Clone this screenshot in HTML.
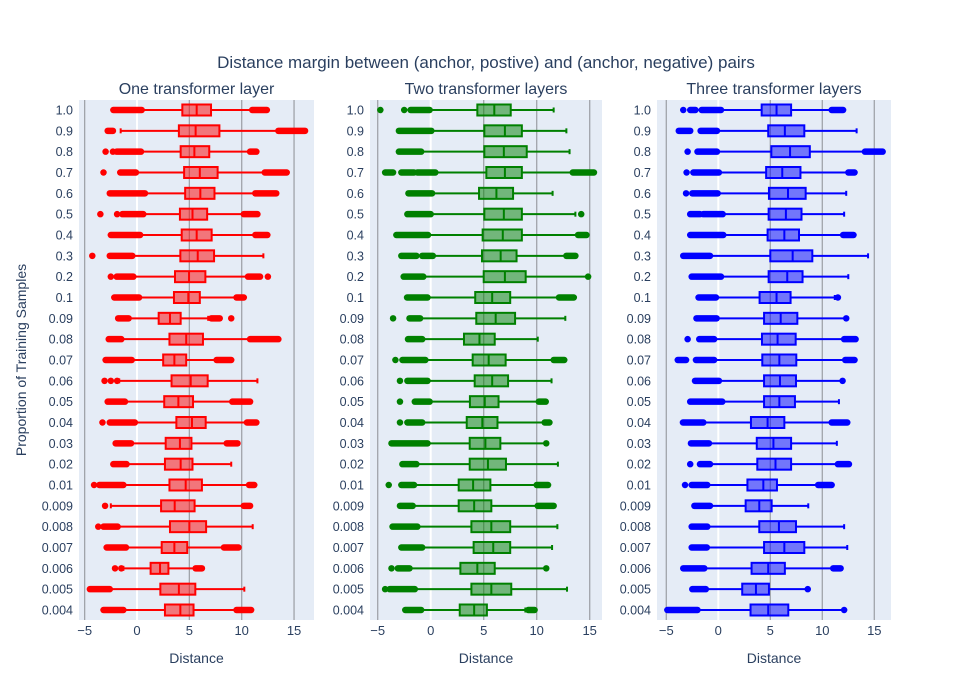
<!DOCTYPE html>
<html><head><meta charset="utf-8">
<style>
body{margin:0;background:#fff;}
svg{display:block;font-family:"Liberation Sans",Arial,sans-serif;}
</style></head>
<body>
<svg id="chart" width="971" height="700" viewBox="0 0 971 700">
<text x="486" y="68" text-anchor="middle" font-size="17" fill="#2a3f5f">Distance margin between (anchor, postive) and (anchor, negative) pairs</text>
<text x="26" y="360" text-anchor="middle" font-size="14" fill="#2a3f5f" transform="rotate(-90 26 360)">Proportion of Training Samples</text>
</svg>
<script>
const categories=["1.0","0.9","0.8","0.7","0.6","0.5","0.4","0.3","0.2","0.1","0.09","0.08","0.07","0.06","0.05","0.04","0.03","0.02","0.01","0.009","0.008","0.007","0.006","0.005","0.004"];
const panelTitles=["One transformer layer","Two transformer layers","Three transformer layers"];
const xTicks=[-5,0,5,10,15];
const xTickLabels=["−5","0","5","10","15"];

const p1Lo=[0.45,-1.56,0.38,-0.1,0.76,0.6,0.3,-0.45,-0.35,0.2,-0.8,-1.5,-0.5,-1.7,-1.15,-0.2,-0.57,-1.0,-1.3,-2.5,-1.85,-1.05,-1.3,-2.6,-1.3];
const p1Q1=[4.33,4.0,4.17,4.5,4.6,4.1,4.27,4.14,3.63,3.53,2.07,3.1,2.5,3.3,2.6,3.76,2.74,2.67,3.1,2.3,3.15,2.36,1.3,2.23,2.67];
const p1Med=[5.7,5.6,5.48,6.0,6.05,5.3,5.7,5.8,4.97,4.9,3.15,4.7,3.57,5.13,3.95,5.25,4.1,4.17,4.65,3.6,5.0,3.57,2.2,4.0,4.14];
const p1Q3=[7.07,7.87,6.9,7.7,7.4,6.7,7.13,7.36,6.53,6.0,4.17,6.3,4.7,6.75,5.35,6.56,5.2,5.3,6.2,5.5,6.6,4.8,3.0,5.57,5.4];
const p1Hi=[10.96,13.5,10.8,12.2,11.3,10.2,11.3,12.07,10.6,9.8,6.8,10.8,7.6,11.5,9.1,10.5,8.57,9.0,10.7,10.2,11.05,8.3,5.6,10.25,9.5];
const p1Out=[[[-2.26,0.45],[11,12.4]],[[-2.8,-2.3],[13.5,16.05]],[[-3,-3],[-2.3,-2.3],[-1.94,0.38],[10.8,11.4]],[[-3.2,-3.2],[-1.6,-0.1],[12.2,14.3]],[[-2.6,0.76],[11.3,13.3]],[[-3.5,-3.5],[-1.9,-1.9],[-1.4,0.6],[10.2,11.5]],[[-2.5,0.3],[11.3,12.45]],[[-4.27,-4.27],[-2.6,-0.45]],[[-2.5,-2.5],[-1.94,-0.35],[10.6,11.75],[12.5,12.5]],[[-2.17,0.2],[9.5,10.2]],[[-1.8,-0.8],[7.1,7.9],[9,9]],[[-2.7,-1.5],[10.8,13.5]],[[-3,-0.5],[7.6,9]],[[-3.1,-3.1],[-2.5,-2.5],[-1.9,-1.9]],[[-2.8,-1.15],[9.1,10.8]],[[-3.3,-3.3],[-2.6,-0.2],[10.5,11.4]],[[-2.04,-0.57],[8.57,9.6]],[[-2.26,-1.0]],[[-4.1,-4.1],[-3.6,-1.3],[10.7,11.2]],[[-3.05,-3.05],[10.2,10.8]],[[-3.7,-3.7],[-3.2,-1.85]],[[-2.9,-1.05],[8.3,9.7]],[[-2.1,-2.1],[-1.5,-1.5],[5.6,6.2]],[[-4.5,-2.6]],[[-3.2,-1.3],[9.5,10.9]]];

const p2Lo=[-0.1,0.06,-0.88,0.44,0.13,0,-0.25,0.2,-0.7,-0.3,-1.0,-0.8,-0.5,-0.3,-0.1,-0.8,-0.3,-1.35,-1.57,-1.7,-1.26,-0.8,-2.0,-1.5,-0.9];
const p2Q1=[4.4,5.06,5.06,5.25,4.56,5.06,4.9,4.84,5.0,4.2,4.3,3.14,3.96,4.15,3.7,3.4,3.68,3.68,2.64,2.64,3.84,4.05,2.8,3.84,2.74];
const p2Med=[6.0,7.0,6.9,7.0,6.2,6.9,6.8,6.6,7.0,5.8,6.13,4.6,5.47,5.8,5.1,4.87,5.16,5.4,4.0,4.1,5.72,5.9,4.4,5.72,4.1];
const p2Q3=[7.55,8.6,9.06,8.6,7.77,8.6,8.6,8.1,8.96,7.5,7.96,6.04,7.07,7.3,6.4,6.3,6.57,7.1,5.63,5.72,7.5,7.5,6.04,7.6,5.3];
const p2Hi=[11.6,12.8,13.1,13.4,11.5,13.65,13.9,12.8,14.8,12.1,12.7,10.1,11.6,11.4,10.2,10.75,10.8,12.0,10.0,10.1,11.95,11.45,10.9,12.86,8.93];
const p2Out=[[[-4.75,-4.75],[-2.5,-2.5],[-1.9,-0.1]],[[-3,0.06]],[[-3,-0.9]],[[-4.3,-3.55],[-2.77,-1.57],[-1.26,0.44],[13.4,15.4]],[[-2.1,0.13]],[[-2.2,0],[14.2,14.2]],[[-3.24,-0.25],[13.9,14.7]],[[-2.77,-1.35],[-0.8,0.2],[12.8,13.65]],[[-2.55,-0.7],[14.85,14.85]],[[-2.23,-0.3],[12.1,13.5]],[[-3.55,-3.55],[-2,-1]],[[-2.14,-0.8]],[[-3.33,-3.33],[-2.67,-0.5],[11.6,12.6]],[[-2.9,-2.9],[-2.2,-0.3]],[[-2.9,-2.9],[-1.5,-0.1],[10.2,10.85]],[[-2.9,-2.9],[-2.2,-0.8],[10.75,11.2]],[[-3.7,-0.3],[10.9,10.9]],[[-2.67,-1.35]],[[-3.96,-3.96],[-2.77,-1.57],[10,11.07]],[[-2.9,-1.7],[10.1,11.6]],[[-3.6,-1.26]],[[-2.77,-0.8]],[[-3.7,-3.7],[-3.1,-2.0],[10.9,10.9]],[[-4.3,-4.3],[-3.87,-1.5]],[[-2.4,-0.9],[9.2,9.8]]];

const p3Lo=[0.26,-0.13,-0.13,0.06,-0.06,0.42,0.48,-0.8,0.26,-0.22,-0.16,-0.4,-0.4,0.06,0.38,-1.44,-0.9,-0.8,-1.06,-0.8,-1.06,-1.1,-1.35,-1.2,-2.0];
const p3Q1=[4.17,4.8,5.1,4.6,4.87,4.84,4.74,5.0,4.84,3.97,4.4,4.2,4.23,4.4,4.4,3.14,3.7,3.75,2.8,2.63,3.94,4.4,3.2,2.3,3.1];
const p3Med=[5.6,6.4,6.9,6.15,6.7,6.5,6.35,7.15,6.63,5.6,6.0,5.7,5.87,5.93,5.87,4.74,5.3,5.5,4.33,3.94,5.83,6.35,4.8,3.62,4.8];
const p3Q3=[7.0,8.27,8.8,7.9,8.4,8.0,7.76,9.04,8.1,6.95,7.6,7.44,7.5,7.47,7.37,6.35,7.0,7.0,5.64,5.13,7.47,8.27,6.4,4.87,6.73];
const p3Hi=[10.9,13.3,14.1,12.5,12.3,12.1,12.0,14.4,12.5,11.2,12.3,12.1,12.2,11.95,11.6,10.9,11.4,11.5,9.6,8.65,12.1,12.4,11.05,8.6,12.1];
const p3Out=[[[-3.37,-3.37],[-2.7,-2.2],[-1.6,0.26],[10.9,12.0]],[[-3.8,-2.7],[-1.7,-0.13]],[[-2.95,-2.95],[-2,-0.13],[14.1,15.8]],[[-3.05,-3.05],[-2.4,0.06],[12.5,13.1]],[[-3.1,-3.1],[-2.5,-0.06]],[[-2.7,-1.76],[-1.44,0.42]],[[-2.7,0.48],[12,13]],[[-3.37,-0.8]],[[-2.56,0.26]],[[-1.9,-0.22],[11.5,11.5]],[[-2.1,-0.16],[12.3,12.3]],[[-2.95,-2.95],[-1.83,-0.4],[12.1,13.2]],[[-3.9,-3.1],[-2.15,-0.4],[12.2,13.1]],[[-2.24,0.06],[11.95,11.95]],[[-2.7,0.38]],[[-3.4,-1.44],[10.9,12.4]],[[-2.63,-0.9]],[[-2.7,-2.7],[-1.76,-0.8],[11.5,12.56]],[[-3.2,-3.2],[-2.56,-1.06],[9.6,10.9]],[[-2.3,-0.8]],[[-2.56,-1.06]],[[-2.56,-1.1]],[[-3.37,-1.35],[11.05,11.76]],[[-2.5,-1.2],[8.6,8.6]],[[-4.9,-2.0],[12.1,12.1]]];

const NS="http://www.w3.org/2000/svg";
const svg=document.getElementById('chart');
function mk(tag,attrs,parent){const e=document.createElementNS(NS,tag);for(const k in attrs)e.setAttribute(k,attrs[k]);(parent||svg).appendChild(e);return e;}

const panels=[
 {x0:79,x1:314,zero:137,scale:10.47,color:"#ff0000",fill:"rgba(255,0,0,0.5)",lo:p1Lo,q1:p1Q1,med:p1Med,q3:p1Q3,hi:p1Hi,out:p1Out,key:"one-layer"},
 {x0:370,x1:602,zero:430.7,scale:10.6,color:"#008000",fill:"rgba(0,128,0,0.5)",lo:p2Lo,q1:p2Q1,med:p2Med,q3:p2Q3,hi:p2Hi,out:p2Out,key:"two-layers"},
 {x0:657,x1:891,zero:718.3,scale:10.4,color:"#0000ff",fill:"rgba(0,0,255,0.5)",lo:p3Lo,q1:p3Q1,med:p3Med,q3:p3Q3,hi:p3Hi,out:p3Out,key:"three-layers"}
];
const yTop=100,yBot=620,rowFirst=110,rowStep=500/(categories.length-1);
function yPos(i){return rowFirst+i*rowStep;}

panels.forEach((P,pi)=>{
  const xs=v=>P.zero+v*P.scale;
  const g=mk('g',{});
  
  
  const bg=mk('rect',{x:P.x0,y:yTop,width:P.x1-P.x0,height:yBot-yTop,fill:'#e5ecf6'},g);
  
  
  xTicks.forEach((t,ti)=>{
    const x=xs(t);
    const gl=mk('line',{x1:x,x2:x,y1:yTop,y2:yBot,stroke:t===0?'#ffffff':'#a0a4aa','stroke-width':t===0?2:1.3},g);
    
    
    const tl=mk('text',{x:x,y:635,'text-anchor':'middle','font-size':13,fill:'#2a3f5f'},g);
    tl.textContent=xTickLabels[ti];
    
    
  });
  const st=mk('text',{x:(P.x0+P.x1)/2,y:94,'text-anchor':'middle','font-size':16,fill:'#2a3f5f'},g);
  st.textContent=panelTitles[pi];
  
  
  const xt=mk('text',{x:(P.x0+P.x1)/2,y:663,'text-anchor':'middle','font-size':14,fill:'#2a3f5f'},g);
  xt.textContent="Distance";
  
  
  categories.forEach((c,i)=>{
    const y=yPos(i);
    const yl=mk('text',{x:P.x0-6,y:y+4.5,'text-anchor':'end','font-size':12.5,fill:'#2a3f5f'},g);
    yl.textContent=c;
    
    
    const bx=mk('g',{},g);
    
    
    mk('line',{x1:xs(P.lo[i]),x2:xs(P.q1[i]),y1:y,y2:y,stroke:P.color,'stroke-width':2},bx);
    mk('line',{x1:xs(P.q3[i]),x2:xs(P.hi[i]),y1:y,y2:y,stroke:P.color,'stroke-width':2},bx);
    mk('line',{x1:xs(P.lo[i]),x2:xs(P.lo[i]),y1:y-2.5,y2:y+2.5,stroke:P.color,'stroke-width':2},bx);
    mk('line',{x1:xs(P.hi[i]),x2:xs(P.hi[i]),y1:y-2.5,y2:y+2.5,stroke:P.color,'stroke-width':2},bx);
    mk('rect',{x:xs(P.q1[i]),y:y-5.5,width:xs(P.q3[i])-xs(P.q1[i]),height:11,fill:P.fill,stroke:P.color,'stroke-width':2},bx);
    mk('line',{x1:xs(P.med[i]),x2:xs(P.med[i]),y1:y-5.5,y2:y+5.5,stroke:P.color,'stroke-width':2},bx);
    P.out[i].forEach(r=>{
      const o=mk('line',{x1:xs(r[0]),x2:xs(r[1])+0.01,y1:y,y2:y,stroke:P.color,'stroke-width':6.5,'stroke-linecap':'round'},bx);
      
      
    });
  });
});
</script>
</body></html>
